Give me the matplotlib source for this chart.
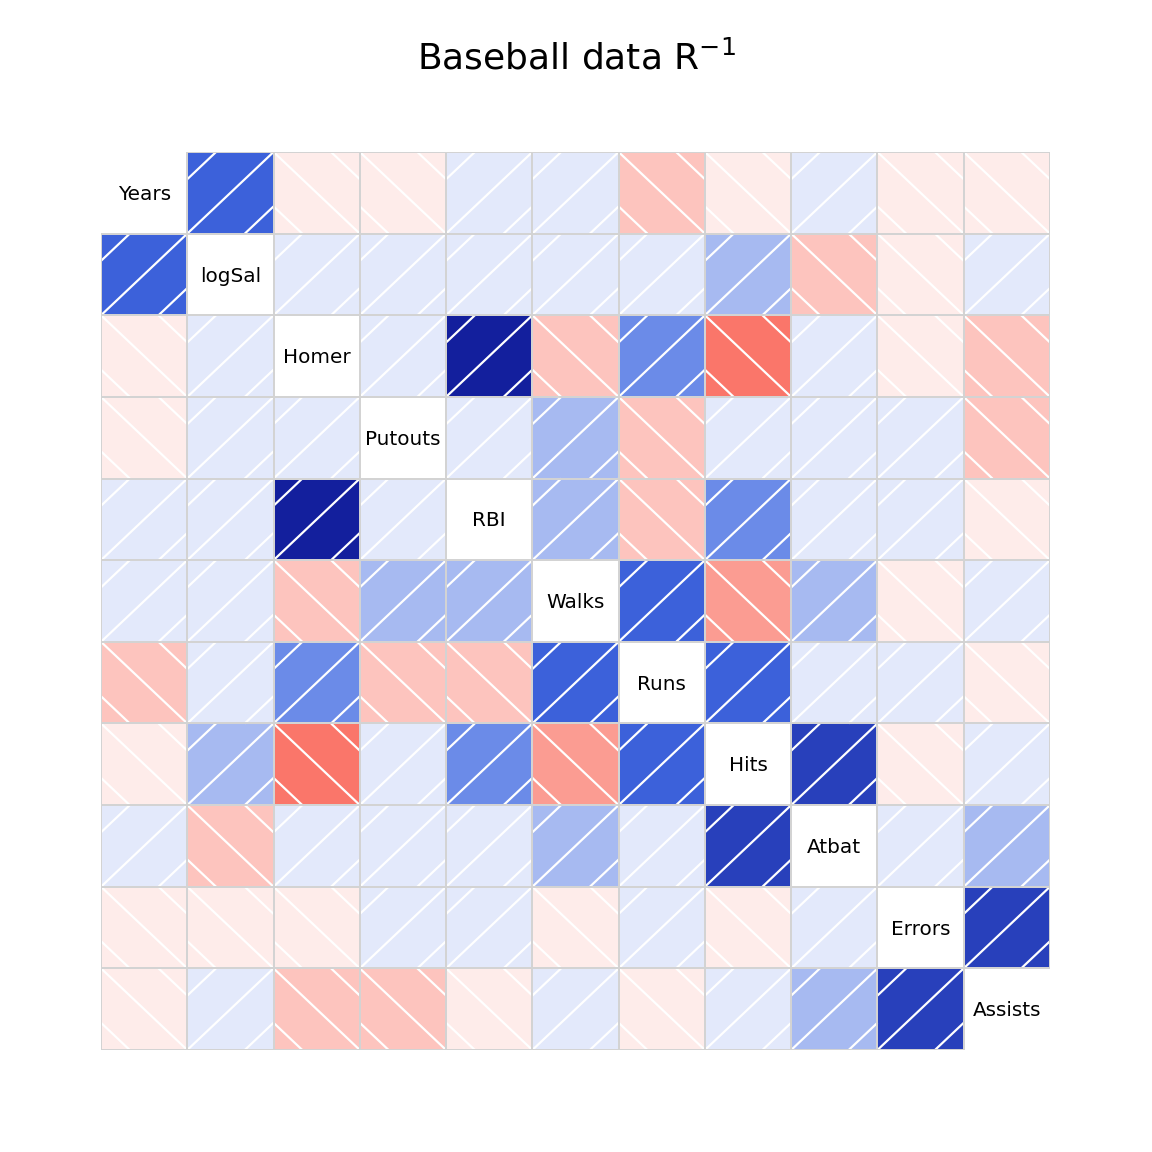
import numpy as np
import matplotlib
matplotlib.use('Agg')
import matplotlib.pyplot as plt
from matplotlib.colors import LinearSegmentedColormap
from matplotlib.patches import Rectangle

# variable names (diagonal labels)
labels = ['Years', 'logSal', 'Homer', 'Putouts', 'RBI', 'Walks',
          'Runs', 'Hits', 'Atbat', 'Errors', 'Assists']

# upper triangle of the scaled inverse correlation matrix, row by row
r_years = [0.50, -0.07, -0.07, 0.07, 0.07, -0.20, -0.07, 0.07, -0.07, -0.07]
r_logsal = [0.07, 0.07, 0.07, 0.07, 0.07, 0.20, -0.20, -0.07, 0.07]
r_homer = [0.07, 0.80, -0.20, 0.35, -0.50, 0.07, -0.07, -0.20]
r_putouts = [0.07, 0.20, -0.20, 0.07, 0.07, 0.07, -0.20]
r_rbi = [0.20, -0.20, 0.35, 0.07, 0.07, -0.07]
r_walks = [0.50, -0.35, 0.20, -0.07, 0.07]
r_runs = [0.50, 0.07, 0.07, -0.07]
r_hits = [0.65, -0.07, 0.07]
r_atbat = [0.07, 0.20]
r_errors = [0.65]
upper = [r_years, r_logsal, r_homer, r_putouts, r_rbi, r_walks,
         r_runs, r_hits, r_atbat, r_errors]

n = len(labels)
corr = np.eye(n)
for i, row in enumerate(upper):
    for k, v in enumerate(row):
        j = i + 1 + k
        corr[i, j] = v
        corr[j, i] = v

# corrgram-style palette, 14 bins over [-1, 1]
ncol = 14
ramp = LinearSegmentedColormap.from_list(
    'shade', ['red', 'salmon', 'white', 'royalblue', 'navy'])
pal = [ramp(k / (ncol - 1)) for k in range(ncol)]

fig = plt.figure(figsize=(8, 8), dpi=144)
ax = fig.add_axes([101 / 1152, 1 - 1050 / 1152, 949 / 1152, 898 / 1152])
ax.set_xlim(0, n)
ax.set_ylim(n, 0)
ax.axis('off')

offsets = [-2 / 3, 0, 2 / 3]

for i in range(n):
    for j in range(n):
        if i == j:
            ax.text(j + 0.5, i + 0.52, labels[i], ha='center', va='center',
                    fontsize=10)
            continue
        r = corr[i, j]
        idx = min(int(np.floor((r + 1) / 2 * ncol)), ncol - 1)
        ax.add_patch(Rectangle((j, i), 1, 1, facecolor=pal[idx],
                               edgecolor='none', zorder=1))
        # diagonal shading lines, direction follows the sign
        for c in offsets:
            if r > 0:
                u0, u1 = max(0, -c), min(1, 1 - c)
                v0, v1 = u0 + c, u1 + c
            else:
                u0, u1 = max(0, c), min(1, 1 + c)
                v0, v1 = 1 - u0 + c, 1 - u1 + c
            ax.plot([j + u0, j + u1], [i + 1 - v0, i + 1 - v1],
                    color='white', lw=1.1, zorder=2, solid_capstyle='butt')
        ax.add_patch(Rectangle((j, i), 1, 1, facecolor='none',
                               edgecolor='lightgray', lw=1.0, zorder=3))

fig.text(0.5, 1 - 58 / 1152, r'Baseball data R$^{-1}$', ha='center',
         va='center', fontsize=18)

fig.savefig('out.png', dpi=144)
